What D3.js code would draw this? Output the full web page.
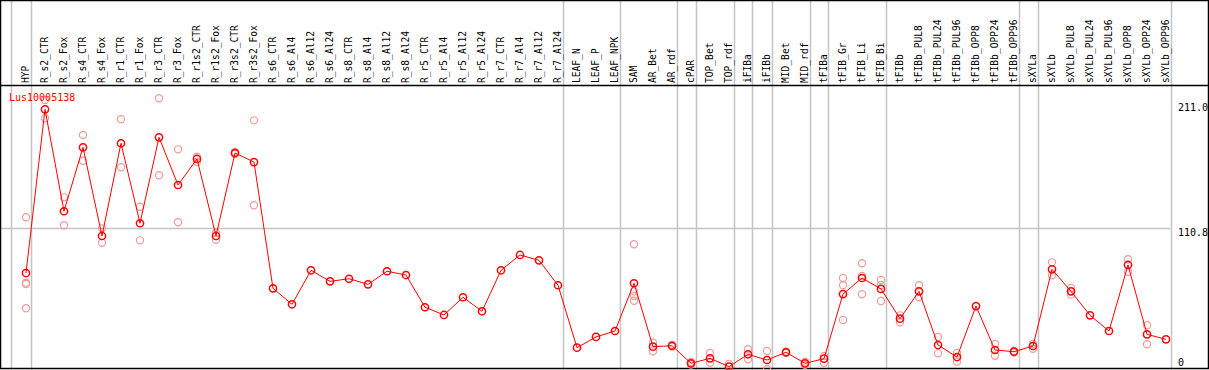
<!DOCTYPE html>
<html>
<head>
<meta charset="utf-8">
<script src="https://cdn.jsdelivr.net/npm/d3@7"></script>
<style>
  body { margin: 0; background: #fff; }
  svg { display: block; }
  text { font-family: "DejaVu Sans Mono", monospace; }
</style>
</head>
<body>
<svg id="chart"></svg>
<script>
// Data
var geneName = 'Lus10005138';

var samples = ['HYP', 'R_s2_CTR', 'R_s2_Fox', 'R_s4_CTR', 'R_s4_Fox', 'R_r1_CTR', 'R_r1_Fox',
    'R_r3_CTR', 'R_r3_Fox', 'R_r1s2_CTR', 'R_r1s2_Fox', 'R_r3s2_CTR', 'R_r3s2_Fox',
    'R_s6_CTR', 'R_s6_Al4', 'R_s6_Al12', 'R_s6_Al24', 'R_s8_CTR', 'R_s8_Al4', 'R_s8_Al12', 'R_s8_Al24',
    'R_r5_CTR', 'R_r5_Al4', 'R_r5_Al12', 'R_r5_Al24', 'R_r7_CTR', 'R_r7_Al4', 'R_r7_Al12', 'R_r7_Al24',
    'LEAF_N', 'LEAF_P', 'LEAF_NPK', 'SAM', 'AR_Bet', 'AR_rdf', 'cPAR', 'TOP_Bet', 'TOP_rdf',
    'iFIBa', 'iFIBb', 'MID_Bet', 'MID_rdf', 'tFIBa', 'tFIB_Gr', 'tFIB_Li', 'tFIB_Bi',
    'tFIBb', 'tFIBb_PUL8', 'tFIBb_PUL24', 'tFIBb_PUL96', 'tFIBb_OPP8', 'tFIBb_OPP24', 'tFIBb_OPP96',
    'sXYLa', 'sXYLb', 'sXYLb_PUL8', 'sXYLb_PUL24', 'sXYLb_PUL96', 'sXYLb_OPP8', 'sXYLb_OPP24', 'sXYLb_OPP96'
];

// sizes of the sample groups (separated by grey lines)
var groupSizes = [1, 28, 3, 3, 1, 2, 1, 1, 2, 1, 3, 7, 1, 7];

var means = [73.2, 211.0, 125.2, 179.0, 104.4, 182.4, 115.1, 187.4, 147.3, 169.2, 104.4, 174.2, 166.6,
    60.3, 46.9, 75.5, 66.2, 68.4, 63.7, 74.7, 71.5,
    44.4, 37.9, 52.8, 41.0, 75.5, 88.4, 83.9, 62.9,
    10.4, 19.4, 24.4, 64.6, 11.2, 12.0, -2.8, 1.4, -5.6,
    4.8, 0.0, 6.5, -2.8, 1.1, 55.5, 69.0, 59.8,
    34.8, 57.8, 12.6, 2.5, 45.4, 8.4, 7.0,
    11.8, 76.3, 57.8, 37.6, 24.4, 80.0, 21.6, 17.4
];

// replicate values (light circles)
var replicates = [
    [120.1, 65.1, 64.0, 43.5], [218.8, 203.4], [136.9, 113.4], [189.4, 167.7], [110.8, 98.7],
    [202.6, 162.2], [129.0, 100.7], [220.3, 155.5], [177.3, 115.9], [171.1, 166.9], [107.1, 101.2],
    [175.1, 173.4], [201.7, 130.2],
    [], [], [], [], [], [], [], [],
    [], [], [], [], [], [], [], [],
    [], [], [], [97.4, 57.8, 53.9, 49.9], [14.6, 7.3], [12.6, 11.4], [-1.7, -3.8], [5.9, -2.3], [-3.4, -9.3],
    [9.0, 0.6], [7.6, -7.8], [7.2, 5.9], [-1.4, -4.0], [3.4, -2.3], [69.0, 62.9, 33.7], [81.4, 70.7, 55.3], [67.3, 63.1, 49.7],
    [37.6, 31.7], [62.9, 52.8], [19.4, 5.6], [5.9, -1.4], [], [13.5, 3.6], [7.6, 6.3],
    [13.5, 9.5], [82.2, 71.3], [60.6, 55.0], [], [], [84.8, 74.3], [29.2, 13.2], []
];

var tickValues = [211.0, 110.8, 0];
var gridValues = [110.8];

// Canvas
var w = 1209,
    h = 370,
    headerH = 85,
    plotRight = 1170;

var svg = d3.select('#chart')
    .attr('width', w)
    .attr('height', h);

var xScale = d3.scaleLinear()
    .domain([0, samples.length - 1])
    .range([26, 1166]);
var yScale = d3.scaleLinear()
    .domain([0, 211])
    .range([360, 109.3]);

var red = '#ff0000',
    lightRed = '#f09a9a',
    grey = '#c4c4c4';

// separators: before the first sample and after each group
var seps = [-1];
var acc = 0;
groupSizes.forEach(function(n) {
    acc += n;
    seps.push(acc - 1);
});

svg.selectAll('line.sep')
    .data(seps)
    .enter()
    .append('line')
    .attr('class', 'sep')
    .attr('x1', function(d) { return Math.round(xScale(d) + 4.5) + 0.5; })
    .attr('x2', function(d) { return Math.round(xScale(d) + 4.5) + 0.5; })
    .attr('y1', 0)
    .attr('y2', h)
    .attr('stroke', grey)
    .attr('stroke-width', 1.5);

svg.selectAll('line.grid')
    .data(gridValues)
    .enter()
    .append('line')
    .attr('class', 'grid')
    .attr('x1', 0)
    .attr('x2', plotRight)
    .attr('y1', function(d) { return Math.round(yScale(d)) + 0.5; })
    .attr('y2', function(d) { return Math.round(yScale(d)) + 0.5; })
    .attr('stroke', grey)
    .attr('stroke-width', 1.5);

// frame
svg.append('rect')
    .attr('x', 0.5)
    .attr('y', 0.5)
    .attr('width', w - 1)
    .attr('height', h - 2)
    .attr('fill', 'none')
    .attr('stroke', '#000')
    .attr('stroke-width', 1.5);
svg.append('line')
    .attr('x1', 0)
    .attr('x2', w)
    .attr('y1', headerH + 0.5)
    .attr('y2', headerH + 0.5)
    .attr('stroke', '#000')
    .attr('stroke-width', 1.5);

// column labels
svg.selectAll('text.col')
    .data(samples)
    .enter()
    .append('text')
    .attr('class', 'col')
    .attr('transform', function(d, i) {
        return 'translate(' + (xScale(i) + 3) + ',' + 83 + ') rotate(-90)';
    })
    .attr('font-size', '9.6px')
    .attr('fill', '#000')
    .text(function(d) { return d; });

// y labels on the right (top one sits just above its value)
var topTick = d3.max(tickValues);
svg.selectAll('text.tick')
    .data(tickValues)
    .enter()
    .append('text')
    .attr('class', 'tick')
    .attr('x', 1178)
    .attr('y', function(d) {
        if (d === topTick) return yScale(d) + 1.5;
        return Math.min(yScale(d) + 7.5, 366);
    })
    .attr('font-size', '10px')
    .attr('fill', '#000')
    .text(function(d) { return d === 0 ? '0' : d3.format('.1f')(d); });

// replicates
var repPts = [];
replicates.forEach(function(arr, i) {
    arr.forEach(function(v) { repPts.push({ i: i, v: v }); });
});

svg.append('g')
    .selectAll('circle')
    .data(repPts)
    .enter()
    .append('circle')
    .attr('cx', function(d) { return xScale(d.i); })
    .attr('cy', function(d) { return yScale(d.v); })
    .attr('r', 3.6)
    .attr('fill', 'none')
    .attr('stroke', lightRed)
    .attr('stroke-width', 1.2);

// mean line
var line = d3.line()
    .x(function(d, i) { return xScale(i); })
    .y(function(d) { return yScale(d); });

svg.append('path')
    .datum(means)
    .attr('d', line)
    .attr('fill', 'none')
    .attr('stroke', red)
    .attr('stroke-width', 1);

svg.append('g')
    .selectAll('circle')
    .data(means)
    .enter()
    .append('circle')
    .attr('cx', function(d, i) { return xScale(i); })
    .attr('cy', function(d) { return yScale(d); })
    .attr('r', 3.6)
    .attr('fill', 'none')
    .attr('stroke', red)
    .attr('stroke-width', 1.5);

// gene label
svg.append('text')
    .attr('x', 9)
    .attr('y', 101)
    .attr('font-size', '10px')
    .attr('fill', red)
    .text(geneName);
</script>
</body>
</html>
